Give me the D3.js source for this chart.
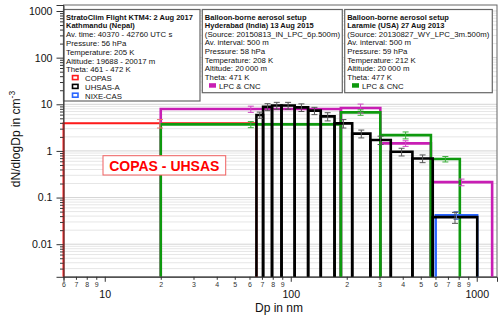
<!DOCTYPE html>
<html>
<head>
<meta charset="utf-8">
<script src="https://cdn.jsdelivr.net/npm/d3@7"></script>
<style>
  body { margin: 0; background: #fff; }
  svg { display: block; font-family: 'Liberation Sans', Arial, sans-serif; }
</style>
</head>
<body>
<svg id="chart" width="500" height="319"></svg>
<script>
'use strict'

// size bins (nm) and dN/dlogDp (cm-3)
const copasEdges = [6, 65.4]
const copasValues = [3.9]
const copasErrors = [0.8]

const uhsasEdges = [65.4, 71, 79.3, 89.2, 105, 124, 145, 172, 214, 268, 345, 451, 580, 1006]
const uhsasValues = [5.9, 8.8, 9.4, 9.4, 8.6, 7.3, 5.5, 3.9, 2.35, 1.72, 0.96, 0.69, 0.038]
const uhsasErrors = [0.9, 1.5, 1.6, 1.6, 1.6, 1.3, 1.1, 0.8, 0.45, 0.35, 0.18, 0.13, 0.01]

const nixeEdges = [602, 1006]
const nixeValues = [0.042]
const nixeErrors = [0.008]

const hyderabadEdges = [20, 186, 303, 567, 1210]
const hyderabadValues = [7.9, 8.3, 1.45, 0.214]
const hyderabadErrors = [1.2, 1.8, 0.2, 0.035]

const laramieEdges = [20, 186, 303, 567, 811]
const laramieValues = [3.7, 6.7, 2.18, 0.67]
const laramieErrors = [0.55, 0.9, 0.37, 0.09]

const yTickValues = [0.01, 0.1, 1, 10, 100, 1000]
const yTickLabels = ['0.01', '0.1', '1', '10', '100', '1000']
const xMajorTicks = [10, 100, 1000]
const xMajorLabels = ['10', '100', '1000']

const ktmLines = ['StratoClim Flight KTM4: 2 Aug 2017', 'Kathmandu (Nepal)', 'Av. time: 40370 - 42760 UTC s',
  'Pressure: 56 hPa', 'Temperature: 205 K', 'Altitude: 19688 - 20017 m', 'Theta: 461 - 472 K']
const ktmLegend = ['COPAS', 'UHSAS-A', 'NIXE-CAS']
const hyderabadLines = ['Balloon-borne aerosol setup', 'Hyderabad (India) 13 Aug 2015', '(Source: 20150813_IN_LPC_6p.500m)',
  'Av. interval: 500 m', 'Pressure: 58 hPa', 'Temperature: 208 K', 'Altitude: 20\u2009000 m', 'Theta: 471 K']
const laramieLines = ['Balloon-borne aerosol setup', 'Laramie (USA) 27 Aug 2013', '(Source: 20130827_WY_LPC_3m.500m)',
  'Av. interval: 500 m', 'Pressure: 59 hPa', 'Temperature: 212 K', 'Altitude: 20\u2009000 m', 'Theta: 477 K']

const colors = {
  copas: '#ff1a1a',
  uhsas: '#000000',
  nixe: '#2a66ff',
  hyderabad: '#c81eb4',
  laramie: '#0e990e'
}

const plot = { left: 63.5, right: 497, top: 5, bottom: 276.8 }

const svg = d3.select('#chart')

const x = d3.scaleLog().domain([6, 1285]).range([plot.left, plot.right])
const y = d3.scaleLog().domain([0.002, 1345]).range([plot.bottom, plot.top])

// horizontal grid, every 1..9 of each decade
const gridValues = []
for (let e = -3; e <= 3; e++) {
  for (let k = 1; k <= 9; k++) {
    const v = k * Math.pow(10, e)
    if (v > y.domain()[0] && v < y.domain()[1]) gridValues.push(v)
  }
}
svg.append('g')
  .selectAll('line')
  .data(gridValues)
  .enter()
  .append('line')
  .attr('x1', plot.left)
  .attr('x2', plot.right)
  .attr('y1', d => y(d))
  .attr('y2', d => y(d))
  .attr('stroke', d => yTickValues.includes(d) ? '#d4d4d4' : '#e6e6e6')
  .attr('stroke-width', 1)

svg.append('rect')
  .attr('x', plot.left)
  .attr('y', plot.top)
  .attr('width', plot.right - plot.left)
  .attr('height', plot.bottom - plot.top)
  .attr('fill', 'none')
  .attr('stroke', '#666')
  .attr('stroke-width', 1)

// info boxes
function drawInfoBox (box, lines, boldCount) {
  const g = svg.append('g')
  g.append('rect')
    .attr('x', box.x)
    .attr('y', box.y)
    .attr('width', box.w)
    .attr('height', box.h)
    .attr('fill', '#fff')
    .attr('stroke', '#666')
    .attr('stroke-width', 1.2)
  g.selectAll('text')
    .data(lines)
    .enter()
    .append('text')
    .attr('x', box.x + 2.5)
    .attr('y', (d, i) => box.y + 10 + i * box.step)
    .attr('font-size', (d, i) => i < boldCount ? 7.5 : 7.8)
    .attr('font-weight', (d, i) => i < boldCount ? 'bold' : 'normal')
    .attr('fill', '#111')
    .text(d => d)
  return g
}

const ktmBox = drawInfoBox({ x: 63.5, y: 9.5, w: 136.5, h: 91.5, step: 8.8 }, ktmLines, 2)
const ktmColors = [colors.copas, colors.uhsas, colors.nixe]
ktmLegend.forEach((label, i) => {
  const ly = 9.5 + 10 + (ktmLines.length + i) * 8.8
  ktmBox.append('rect')
    .attr('x', 72.5)
    .attr('y', ly - 5.5)
    .attr('width', 5.5)
    .attr('height', 4)
    .attr('fill', 'none')
    .attr('stroke', ktmColors[i])
    .attr('stroke-width', 1.6)
  ktmBox.append('text')
    .attr('x', 85)
    .attr('y', ly)
    .attr('font-size', 7.8)
    .attr('fill', '#111')
    .text(label)
})

const hydBox = drawInfoBox({ x: 202.3, y: 9.5, w: 140, h: 83.2, step: 8.65 }, hyderabadLines, 2)
const larBox = drawInfoBox({ x: 344.7, y: 9.5, w: 147.6, h: 83.2, step: 8.65 }, laramieLines, 2)
;[[hydBox, 209, colors.hyderabad], [larBox, 352, colors.laramie]].forEach(([g, mx, c]) => {
  const ly = 9.5 + 10 + 8 * 8.65
  g.append('rect')
    .attr('x', mx)
    .attr('y', ly - 5.5)
    .attr('width', 7)
    .attr('height', 4.5)
    .attr('fill', c)
  g.append('text')
    .attr('x', mx + 10)
    .attr('y', ly)
    .attr('font-size', 7.8)
    .attr('fill', '#111')
    .text('LPC & CNC')
})

// histograms, drawn as bars standing on the bottom axis
function drawHistogram (edges, values, color, width) {
  const bins = values.map((v, i) => ({ x0: edges[i], x1: edges[i + 1], value: v }))
  svg.append('g')
    .selectAll('path')
    .data(bins)
    .enter()
    .append('path')
    .attr('d', b => `M${x(b.x0)},${plot.bottom}V${y(b.value)}H${x(b.x1)}V${plot.bottom}`)
    .attr('fill', 'none')
    .attr('stroke', color)
    .attr('stroke-width', width)
    .attr('stroke-linejoin', 'miter')
}

function drawErrors (edges, values, errors, color) {
  const bins = values.map((v, i) => ({
    cx: x(Math.sqrt(edges[i] * edges[i + 1])),
    lo: y(v - errors[i]),
    hi: y(v + errors[i])
  }))
  const g = svg.append('g')
    .attr('stroke', color)
    .attr('stroke-width', 1)
  const bar = g.selectAll('g').data(bins).enter().append('g')
  bar.append('line')
    .attr('x1', b => b.cx).attr('x2', b => b.cx)
    .attr('y1', b => b.lo).attr('y2', b => b.hi)
  bar.append('line')
    .attr('x1', b => b.cx - 3).attr('x2', b => b.cx + 3)
    .attr('y1', b => b.lo).attr('y2', b => b.lo)
  bar.append('line')
    .attr('x1', b => b.cx - 3).attr('x2', b => b.cx + 3)
    .attr('y1', b => b.hi).attr('y2', b => b.hi)
}

drawHistogram(copasEdges, copasValues, colors.copas, 2)
drawHistogram(hyderabadEdges, hyderabadValues, colors.hyderabad, 2.6)
drawHistogram(laramieEdges, laramieValues, colors.laramie, 2.6)
drawHistogram(nixeEdges, nixeValues, colors.nixe, 2.4)
drawHistogram(uhsasEdges, uhsasValues, colors.uhsas, 2.6)

drawErrors(copasEdges, copasValues, copasErrors, '#f07070')
drawErrors(hyderabadEdges, hyderabadValues, hyderabadErrors, '#d048c4')
drawErrors(laramieEdges, laramieValues, laramieErrors, '#3cb03c')
drawErrors(nixeEdges, nixeValues, nixeErrors, '#5a78c8')
drawErrors(uhsasEdges, uhsasValues, uhsasErrors, '#555')

// COPAS - UHSAS tag
svg.append('rect')
  .attr('x', 103)
  .attr('y', 155.7)
  .attr('width', 122.7)
  .attr('height', 19.3)
  .attr('fill', '#fff')
  .attr('stroke', '#f06060')
  .attr('stroke-width', 1)
svg.append('text')
  .attr('x', 164.3)
  .attr('y', 170.5)
  .attr('text-anchor', 'middle')
  .attr('font-size', 14)
  .attr('font-weight', 'bold')
  .attr('fill', '#ff0000')
  .text('COPAS - UHSAS')

// y axis
const yAxis = svg.append('g')
  .attr('transform', `translate(${plot.left},0)`)
  .call(d3.axisLeft(y)
    .tickValues(yTickValues)
    .tickFormat((d, i) => yTickLabels[i])
    .tickSize(7)
    .tickPadding(4))
yAxis.select('.domain').attr('stroke', '#333')
yAxis.selectAll('.tick line').attr('stroke', '#333')
yAxis.selectAll('.tick text')
  .attr('font-size', 10.6)
  .attr('font-family', 'Liberation Sans, Arial, sans-serif')
  .attr('fill', '#111')

svg.append('g')
  .attr('transform', `translate(${plot.left},0)`)
  .call(d3.axisLeft(y)
    .tickValues(gridValues.filter(v => !yTickValues.includes(v)))
    .tickFormat('')
    .tickSize(3.5))
  .call(g => g.select('.domain').remove())
  .selectAll('.tick line').attr('stroke', '#333')

// x axis
const xMinorTicks = []
for (let e = 0; e <= 2; e++) {
  for (let k = 2; k <= 9; k++) {
    const v = k * Math.pow(10, e)
    if (v >= 6 && v < 1000) xMinorTicks.push(v)
  }
}

const xAxis = svg.append('g')
  .attr('transform', `translate(0,${plot.bottom})`)
  .call(d3.axisBottom(x)
    .tickValues(xMajorTicks)
    .tickFormat((d, i) => xMajorLabels[i])
    .tickSize(5)
    .tickPadding(9))
xAxis.select('.domain').attr('stroke', '#333')
xAxis.selectAll('.tick line').attr('stroke', '#333')
xAxis.selectAll('.tick text')
  .attr('font-size', 10.6)
  .attr('font-family', 'Liberation Sans, Arial, sans-serif')
  .attr('fill', '#111')

const xMinor = svg.append('g')
  .attr('transform', `translate(0,${plot.bottom})`)
  .call(d3.axisBottom(x)
    .tickValues(xMinorTicks)
    .tickFormat(d => String(d).charAt(0))
    .tickSize(3)
    .tickPadding(2))
xMinor.select('.domain').remove()
xMinor.selectAll('.tick line').attr('stroke', '#333')
xMinor.selectAll('.tick text')
  .attr('font-size', 7)
  .attr('font-family', 'Liberation Sans, Arial, sans-serif')
  .attr('fill', '#333')

// axis titles
svg.append('text')
  .attr('x', 279)
  .attr('y', 312)
  .attr('text-anchor', 'middle')
  .attr('font-size', 12)
  .attr('fill', '#111')
  .text('Dp in nm')

const yTitle = svg.append('text')
  .attr('transform', 'translate(20,139) rotate(-90)')
  .attr('text-anchor', 'middle')
  .attr('font-size', 12)
  .attr('fill', '#111')
yTitle.append('tspan').text('dN/dlogDp in cm')
yTitle.append('tspan')
  .attr('dy', -5)
  .attr('font-size', 8.5)
  .text('-3')
</script>
</body>
</html>
